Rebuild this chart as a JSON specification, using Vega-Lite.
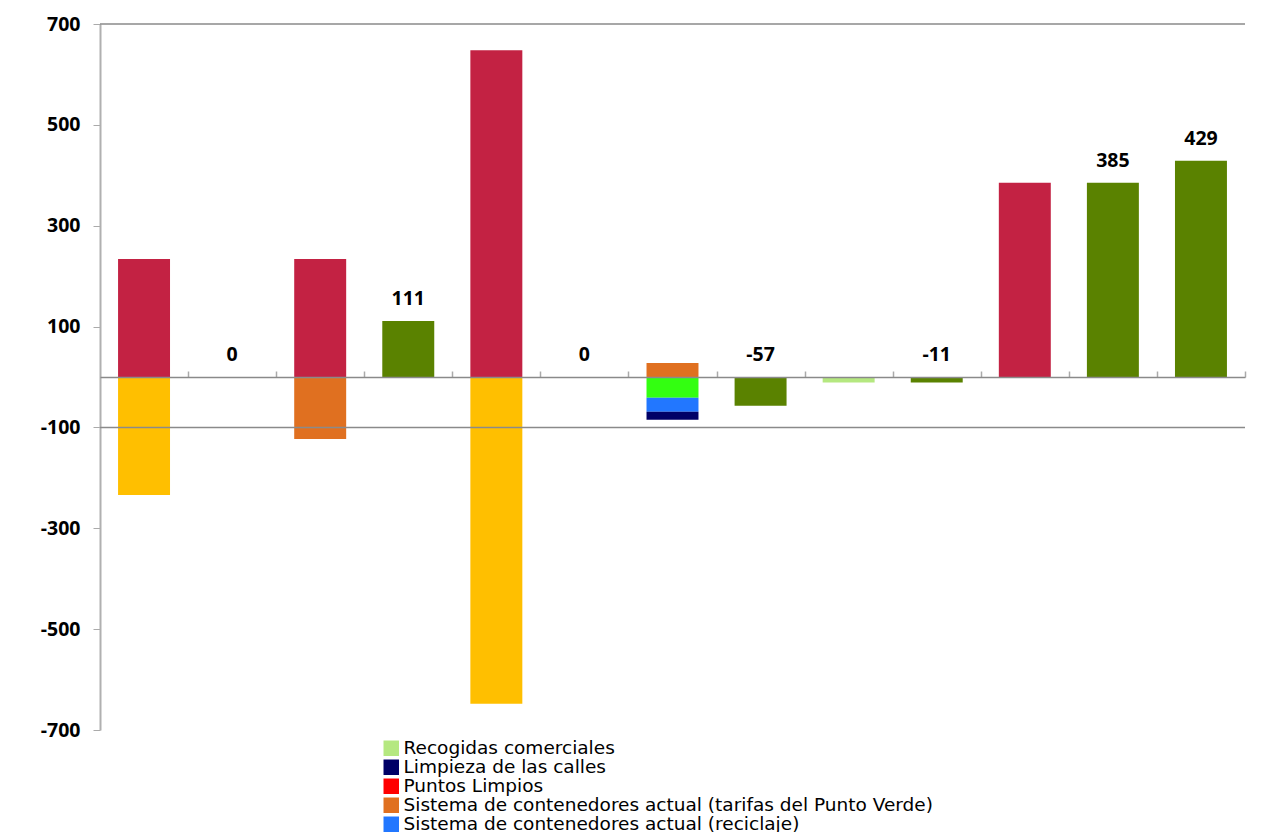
{
  "$schema": "https://vega.github.io/schema/vega-lite/v6.json",
  "width": 1145,
  "height": 706,
  "autosize": {"type": "none"},
  "padding": {"left": 100, "top": 24, "right": 33, "bottom": 102},
  "background": "white",
  "config": {"view": {"stroke": null}, "font": "Open Sans"},
  "datasets": {
    "barras": [
      {"caso": "C01", "serie": "Ingresos", "valor": 234},
      {"caso": "C01", "serie": "Costes adicionales", "valor": -234},
      {"caso": "C02", "serie": "Balance neto", "valor": 0},
      {"caso": "C03", "serie": "Ingresos", "valor": 234},
      {"caso": "C03", "serie": "Sistema de contenedores actual (tarifas del Punto Verde)", "valor": -123},
      {"caso": "C04", "serie": "Balance neto", "valor": 111},
      {"caso": "C05", "serie": "Ingresos", "valor": 648},
      {"caso": "C05", "serie": "Costes adicionales", "valor": -648},
      {"caso": "C06", "serie": "Balance neto", "valor": 0},
      {"caso": "C07", "serie": "Sistema de contenedores actual (tarifas del Punto Verde)", "valor": 28},
      {"caso": "C07", "serie": "Sistema de contenedores actual (resto)", "valor": -41},
      {"caso": "C07", "serie": "Sistema de contenedores actual (reciclaje)", "valor": -28},
      {"caso": "C07", "serie": "Limpieza de las calles", "valor": -16},
      {"caso": "C08", "serie": "Balance neto", "valor": -57},
      {"caso": "C09", "serie": "Recogidas comerciales", "valor": -11},
      {"caso": "C10", "serie": "Balance neto", "valor": -11},
      {"caso": "C11", "serie": "Ingresos", "valor": 385},
      {"caso": "C12", "serie": "Balance neto", "valor": 385},
      {"caso": "C13", "serie": "Balance neto", "valor": 429}
    ]
  },
  "layer": [
    {
      "data": {"name": "barras"},
      "mark": {"type": "bar"},
      "encoding": {
        "x": {
          "field": "caso", "type": "nominal", "sort": null,
          "scale": {"paddingInner": 0.41, "paddingOuter": 0.205},
          "axis": {
            "title": null, "labels": false, "orient": "bottom", "offset": -353,
            "bandPosition": 0.5, "tickOffset": 44, "tickSize": -6, "tickColor": "#aaaaaa", "tickWidth": 1.5,
            "domainColor": "#8a8a8a", "domainWidth": 1.5, "zindex": 1
          }
        },
        "y": {
          "field": "valor", "type": "quantitative", "stack": "zero", "title": null,
          "scale": {"domain": [-700, 700], "nice": false, "zero": false},
          "axis": {
            "title": null, "grid": false,
            "values": [700, 500, 300, 100, -100, -300, -500, -700],
            "labelExpr": "'' + datum.value",
            "labelFont": "Open Sans", "labelFontWeight": "bold", "labelFontSize": 19.5,
            "labelColor": "#000000", "labelPadding": 13,
            "tickSize": 7, "tickColor": "#aaaaaa", "tickWidth": 1,
            "domainColor": "#b0b0b0", "domainWidth": 2
          }
        },
        "color": {
          "field": "serie", "type": "nominal",
          "scale": {
            "domain": [
              "Recogidas comerciales",
              "Limpieza de las calles",
              "Puntos Limpios",
              "Sistema de contenedores actual (tarifas del Punto Verde)",
              "Sistema de contenedores actual (reciclaje)",
              "Sistema de contenedores actual (resto)",
              "Ingresos",
              "Costes adicionales",
              "Balance neto"
            ],
            "range": ["#b5e880", "#000066", "#ff0000", "#e07020", "#2277ff", "#33ff11", "#c32243", "#ffbf00", "#5a8200"]
          },
          "legend": {
            "title": null, "orient": "none", "legendX": 282, "legendY": 715,
            "values": [
              "Recogidas comerciales",
              "Limpieza de las calles",
              "Puntos Limpios",
              "Sistema de contenedores actual (tarifas del Punto Verde)",
              "Sistema de contenedores actual (reciclaje)"
            ],
            "symbolType": "square", "symbolSize": 240, "symbolStrokeWidth": 0,
            "labelFont": "DejaVu Sans", "labelFontSize": 18.5, "labelColor": "#000000",
            "labelOffset": 3, "labelLimit": 0, "rowPadding": 0
          }
        },
        "order": {"field": "serie", "sort": "descending"}
      }
    },
    {
      "data": {"values": [{"linea": 700}, {"linea": -100}]},
      "mark": {"type": "rule", "color": "#8a8a8a", "strokeWidth": 1.5},
      "encoding": {
        "y": {"field": "linea", "type": "quantitative", "title": null}
      }
    },
    {
      "data": {"name": "barras"},
      "transform": [
        {"filter": "datum.serie === 'Balance neto'"},
        {"calculate": "max(datum.valor, 0)", "as": "base_etiqueta"}
      ],
      "mark": {"type": "text", "font": "Open Sans", "fontWeight": "bold", "fontSize": 19.5, "color": "#000000", "baseline": "alphabetic", "dy": -16},
      "encoding": {
        "x": {"field": "caso", "type": "nominal", "sort": null},
        "y": {"field": "base_etiqueta", "type": "quantitative", "title": null},
        "text": {"field": "valor", "type": "nominal"}
      }
    }
  ]
}
